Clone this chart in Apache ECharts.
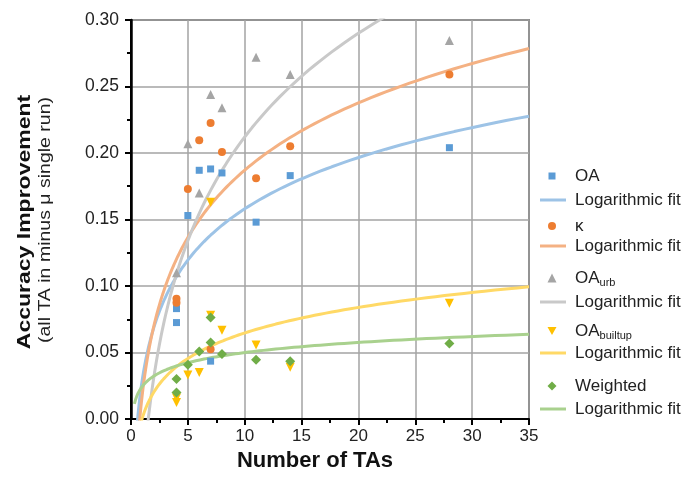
<!DOCTYPE html>
<html>
<head>
<meta charset="utf-8">
<script src="https://cdn.jsdelivr.net/npm/echarts@6/dist/echarts.min.js"></script>
<style>
html,body{margin:0;padding:0;background:#fff;}
#main{width:686px;height:479px;}
</style>
</head>
<body>
<div id="main"></div>
<script>
// ---- data ----
const xTicks = [0, 5, 10, 15, 20, 25, 30, 35];
const yTicks = [0.00, 0.05, 0.10, 0.15, 0.20, 0.25, 0.30];

const oaTA   = [4, 4, 5, 6, 7, 7, 8, 11, 14, 28];
const oaVals = [0.0725, 0.083, 0.153, 0.187, 0.188, 0.0435, 0.185, 0.148, 0.183, 0.204];

const kappaTA   = [4, 4, 5, 6, 7, 7, 8, 11, 14, 28];
const kappaVals = [0.0875, 0.0905, 0.173, 0.2095, 0.2225, 0.0525, 0.2008, 0.181, 0.205, 0.259];

const urbTA   = [4, 5, 6, 7, 8, 11, 14, 28];
const urbVals = [0.110, 0.207, 0.170, 0.244, 0.234, 0.272, 0.259, 0.2845];

const builtTA   = [4, 4, 5, 6, 7, 7, 8, 11, 14, 28];
const builtVals = [0.0125, 0.0158, 0.033, 0.035, 0.163, 0.078, 0.0667, 0.0557, 0.039, 0.087];

const wTA   = [4, 4, 5, 6, 7, 7, 8, 11, 14, 28];
const wVals = [0.020, 0.030, 0.0408, 0.0508, 0.0763, 0.0575, 0.0488, 0.0445, 0.0435, 0.0568];

// logarithmic fit coefficients y = a*ln(x) + b
const fitA = [0.0556, 0.073, 0.1125, 0.0277, 0.011];
const fitB = [0.030, 0.019, -0.047, 0.0009, 0.0246];

const seriesNames = ['OA', 'κ', 'OA_urb', 'OA_builtup', 'Weighted'];
const markerColors = ['#5b9bd5', '#ed7d31', '#a5a5a5', '#ffc000', '#70ad47'];
const lineColors   = ['#9dc3e6', '#f4b183', '#c9c9c9', '#ffd966', '#a9d18e'];
const symbols = ['rect', 'circle', 'triangle', 'triangle', 'diamond'];
const legendIcons = ['rect', 'circle', 'triangle', 'path://M0,0 L10,0 L5,9 Z', 'diamond'];
const symRot  = [0, 0, 0, 180, 0];
const symSize = [7, 8, 9, 9, 10];
const legendIconSize = [7, 8, 9, 9, 9];
const legendCenters = [[176, 200], [226, 246], [278, 302], [331, 353], [386, 409]];

const FONT = "'Liberation Sans', Arial, sans-serif";

function zip(xs, ys) { return xs.map((x, i) => [x, ys[i]]); }
const pts = [zip(oaTA, oaVals), zip(kappaTA, kappaVals), zip(urbTA, urbVals), zip(builtTA, builtVals), zip(wTA, wVals)];

function fitCurve(k) {
  const out = [];
  const n = 160, x0 = 0.3, x1 = 35;
  for (let i = 0; i <= n; i++) {
    const x = x0 * Math.pow(x1 / x0, i / n);
    out.push([x, fitA[k] * Math.log(x) + fitB[k]]);
  }
  return out;
}

function legendFormatter(name) {
  if (name.endsWith(' fit')) return 'Logarithmic fit';
  if (name === 'OA_urb') return 'OA{sub|urb}';
  if (name === 'OA_builtup') return 'OA{sub|builtup}';
  return name;
}

const series = [];
const legends = [];
for (let k = 0; k < 5; k++) {
  series.push({
    name: seriesNames[k] + ' fit',
    type: 'line',
    data: fitCurve(k),
    showSymbol: false,
    symbol: 'none',
    clip: true,
    lineStyle: { color: lineColors[k], width: 3 },
    itemStyle: { color: lineColors[k] },
    z: 2,
    silent: true
  });
}
for (let k = 0; k < 5; k++) {
  series.push({
    name: seriesNames[k],
    type: 'scatter',
    data: pts[k],
    symbol: symbols[k],
    symbolRotate: symRot[k],
    symbolSize: symSize[k],
    itemStyle: { color: markerColors[k], opacity: 1 },
    z: 3
  });
}
const TEXT_X = 575;
for (let k = 0; k < 5; k++) {
  const s = legendIconSize[k];
  const left = 552 - s / 2;
  legends.push({
    data: [{ name: seriesNames[k], icon: legendIcons[k] }],
    left: left,
    top: legendCenters[k][0] - 10,
    padding: 0,
    itemWidth: s,
    itemHeight: s,
    symbolRotate: 0,
    selectedMode: false,
    formatter: legendFormatter,
    textStyle: {
      fontFamily: FONT, fontSize: 17, color: '#222', lineHeight: 20,
      padding: [0, 0, 0, TEXT_X - (left + s + 5)],
      rich: { sub: { fontFamily: FONT, fontSize: 11, color: '#222', lineHeight: 20, padding: [9, 0, 0, 0] } }
    }
  });
  legends.push({
    data: [{ name: seriesNames[k] + ' fit', icon: 'rect' }],
    left: 540,
    top: legendCenters[k][1] - 10,
    padding: 0,
    itemWidth: 26,
    itemHeight: 3,
    selectedMode: false,
    formatter: legendFormatter,
    textStyle: {
      fontFamily: FONT, fontSize: 17, color: '#222', lineHeight: 20,
      padding: [0, 0, 0, TEXT_X - (540 + 26 + 5)]
    }
  });
}

const chart = echarts.init(document.getElementById('main'), null, { renderer: 'canvas' });
chart.setOption({
  animation: false,
  backgroundColor: '#fff',
  grid: { left: 131, right: 157, top: 20, bottom: 60, show: true, borderColor: '#333', borderWidth: 1.5, containLabel: false },
  legend: legends,
  xAxis: {
    type: 'value', min: xTicks[0], max: xTicks[xTicks.length - 1], interval: 5,
    axisLine: { show: true, onZero: false, lineStyle: { color: '#000', width: 2 } },
    axisTick: { show: true, inside: false, length: 6, lineStyle: { color: '#000', width: 2 } },
    minorTick: { show: true, splitNumber: 2, length: 4, lineStyle: { color: '#000', width: 2 } },
    splitLine: { show: true, lineStyle: { color: '#a3a3a3', width: 1.5 } },
    axisLabel: { margin: 9, fontFamily: FONT, fontSize: 17, color: '#222', formatter: v => String(v) }
  },
  yAxis: [{
    type: 'value', min: yTicks[0], max: yTicks[yTicks.length - 1], interval: 0.05,
    axisLine: { show: true, onZero: false, lineStyle: { color: '#000', width: 2 } },
    axisTick: { show: true, inside: false, length: 6, lineStyle: { color: '#000', width: 2 } },
    minorTick: { show: true, splitNumber: 2, length: 4, lineStyle: { color: '#000', width: 2 } },
    splitLine: { show: true, lineStyle: { color: '#a3a3a3', width: 1.5 } },
    axisLabel: { margin: 12, fontFamily: FONT, fontSize: 17.5, color: '#222', formatter: v => v.toFixed(2) }
  }, {
    type: 'value', position: 'right', min: 0, max: 0.30, interval: 0.05,
    axisLine: { show: true, lineStyle: { color: '#000', width: 2.5 } },
    axisTick: { show: false }, axisLabel: { show: false }, splitLine: { show: false }
  }],
  graphic: [
    {
      type: 'text', x: 315, y: 461,
      style: { text: 'Number of TAs', fontFamily: FONT, fontSize: 22, fontWeight: 'bold', fill: '#111', textAlign: 'center', textVerticalAlign: 'middle' }
    },
    {
      type: 'text', x: 25, y: 222, rotation: Math.PI / 2, scaleY: 0.8,
      style: { text: 'Accuracy Improvement', fontFamily: FONT, fontSize: 23, fontWeight: 'bold', fill: '#111', textAlign: 'center', textVerticalAlign: 'middle' }
    },
    {
      type: 'text', x: 45.5, y: 220, rotation: Math.PI / 2, scaleY: 0.8,
      style: { text: '(all TA in minus μ single run)', fontFamily: FONT, fontSize: 19.5, fill: '#222', textAlign: 'center', textVerticalAlign: 'middle' }
    }
  ],
  series: series
});
</script>
</body>
</html>
